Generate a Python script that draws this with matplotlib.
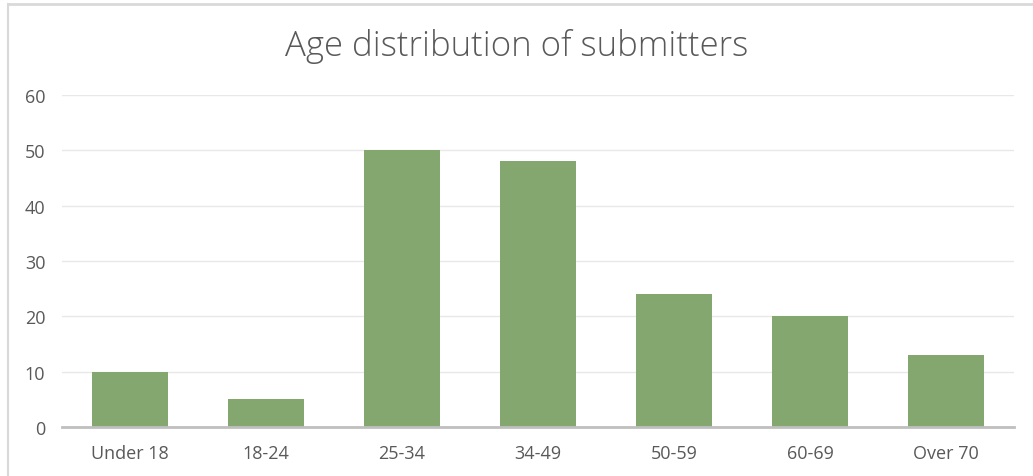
import matplotlib.pyplot as plt
from matplotlib.lines import Line2D

# Chart data
categories = ['Under 18', '18-24', '25-34', '34-49', '50-59', '60-69', 'Over 70']
counts = [10, 5, 50, 48, 24, 20, 13]
y_ticks = [0, 10, 20, 30, 40, 50, 60]

plt.rcParams['font.family'] = ['Open Sans', 'DejaVu Sans']

fig = plt.figure(figsize=(10.33, 4.77), dpi=100)
ax = fig.add_axes([62 / 1033, 1 - 428 / 477, (1014 - 62) / 1033, (428 - 96) / 477])

x = range(len(categories))
ax.bar(x, counts, width=0.56, color='#84a66f', zorder=3)

ax.set_xlim(-0.5, len(categories) - 0.5)
ax.set_ylim(0, 60)
ax.set_yticks(y_ticks)
ax.set_xticks(list(x))
ax.set_xticklabels(categories)

ax.grid(True, axis='y', color='#e8e8e8', linewidth=1, zorder=0)
for side in ['top', 'right', 'left']:
    ax.spines[side].set_visible(False)
ax.spines['bottom'].set_color('#bfbfbf')
ax.spines['bottom'].set_linewidth(2)
ax.spines['bottom'].set_zorder(4)

ax.tick_params(axis='both', length=0, labelsize=13, labelcolor='#595959')
ax.tick_params(axis='y', pad=12)
ax.tick_params(axis='x', pad=12)

fig.text(0.5, 1 - 46 / 477, 'Age distribution of submitters', ha='center', va='center',
         fontsize=25, color='#595959', fontweight='light')

# outer frame of the chart (top and left edges visible)
fig.add_artist(Line2D([8 / 1033, 1], [1 - 5 / 477, 1 - 5 / 477], transform=fig.transFigure,
                      color='#d9d9d9', linewidth=2))
fig.add_artist(Line2D([8 / 1033, 8 / 1033], [0, 1 - 5 / 477], transform=fig.transFigure,
                      color='#d9d9d9', linewidth=1.5))

fig.savefig('out.png', dpi=100)
